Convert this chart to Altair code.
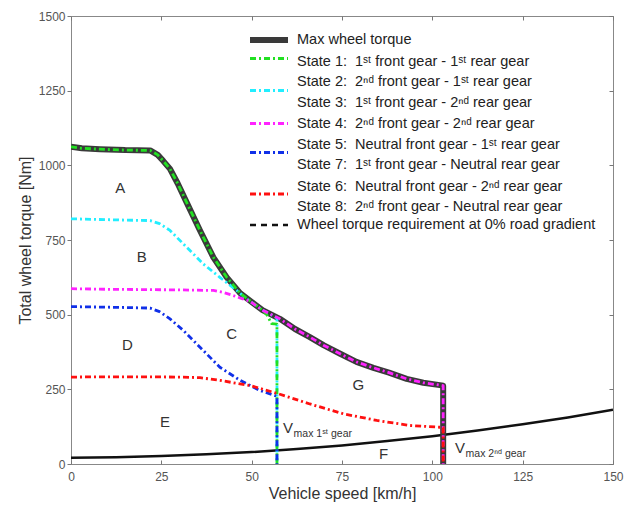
import altair as alt
import pandas as pd

FONT = "Liberation Sans, Arial, DejaVu Sans, sans-serif"

# ---------------- data ----------------
speed_max = [0, 3, 8, 15, 21.9, 24, 25.5, 27.4, 29.5, 32, 35.7, 39.4, 43.1, 46.8, 49.5, 53,
             57.8, 62, 66.1, 70, 74.5, 79, 83.7, 88, 92.9, 97.5, 102.1, 103, 103]
torque_max = [1062, 1057, 1054, 1051, 1050, 1035, 1015, 988, 940, 876, 782, 692, 625, 572, 547, 515,
              486, 452, 425, 397, 369, 342, 322, 306, 285, 272, 264, 262, 0]

speed_s1 = [0, 3, 8, 15, 21.9, 24, 25.5, 27.4, 29.5, 32, 35.7, 39.4, 43.1, 46.8, 49.5, 53, 54.2, 55.5, 57, 57]
torque_s1 = [1062, 1057, 1054, 1051, 1050, 1035, 1015, 988, 940, 876, 782, 692, 625, 572, 547, 515, 500, 470, 468, 0]

speed_s2 = [0, 10, 21.9, 24.5, 27.4, 32, 36.6, 41.2, 45.9, 48.6, 53, 57, 57]
torque_s2 = [821, 818, 815, 805, 782, 726, 670, 625, 581, 553, 515, 489, 0]

speed_s4 = [0, 10, 20, 30, 39.4, 42, 44.9, 47.5, 49.5, 53, 57.8, 62, 66.1, 70, 74.5, 79, 83.7,
            88, 92.9, 97.5, 102.1, 103, 103]
torque_s4 = [587, 585, 584, 583, 581, 575, 564, 553, 545, 515, 486, 452, 425, 397, 369, 342, 322,
             306, 285, 272, 264, 262, 0]

speed_s5 = [0, 5, 15, 21.9, 24.5, 27.4, 31.1, 35.7, 41.2, 46.8, 52.3, 56.5, 57, 57]
torque_s5 = [527, 526, 524, 522, 510, 486, 447, 391, 324, 280, 246, 229, 228, 0]

speed_s6 = [0, 10, 20, 30, 35.7, 41.2, 45, 49.5, 56.9, 66.1, 75.4, 84.6, 93.8, 102.1, 103, 103]
torque_s6 = [291, 292, 292, 291, 289, 280, 272, 263, 237, 201, 168, 146, 129, 123, 122, 0]

speed_req = [0, 12.5, 25, 37.5, 50, 62.5, 75, 87.5, 100, 112.5, 125, 137.5, 150]
torque_req = [21, 23, 27, 33, 40, 50, 62, 77, 93, 112, 133, 156, 182]

region_labels = ["A", "B", "C", "D", "E", "F", "G"]
region_speed = [13.6, 19.6, 44.5, 15.6, 26, 86.5, 79.5]
region_torque = [923, 692, 436, 397, 139, 34, 263]

vmax_main = ["V", "V"]
vmax_sub = ["max 1ˢᵗ gear", "max 2ⁿᵈ gear"]
vmax_speed = [58.7, 106.3]
vmax_torque = [105, 38.5]

x_ticks = [0, 25, 50, 75, 100, 125, 150]
y_ticks = [0, 250, 500, 750, 1000, 1250, 1500]

legend_labels = [
    "Max wheel torque",
    "State 1:\u00a0 1ˢᵗ front gear - 1ˢᵗ rear gear",
    "State 2:\u00a0 2ⁿᵈ front gear - 1ˢᵗ rear gear",
    "State 3:\u00a0 1ˢᵗ front gear - 2ⁿᵈ rear gear",
    "State 4:\u00a0 2ⁿᵈ front gear - 2ⁿᵈ rear gear",
    "State 5:\u00a0 Neutral front gear - 1ˢᵗ rear gear",
    "State 7:\u00a0 1ˢᵗ front gear - Neutral rear gear",
    "State 6:\u00a0 Neutral front gear - 2ⁿᵈ rear gear",
    "State 8:\u00a0 2ⁿᵈ front gear - Neutral rear gear",
    "Wheel torque requirement at 0% road gradient",
]

# ---------------- styling ----------------
W, H = 542, 448
XS = alt.Scale(domain=[0, 150], nice=False, zero=False)
YS = alt.Scale(domain=[0, 1500], nice=False, zero=False)
DASHDOT = [6, 3, 2, 3]

C_MAX = "#3a3a3a"
C_S1 = "#22e022"
C_S2 = "#22eeff"
C_S4 = "#ff22ff"
C_S5 = "#1030e8"
C_S6 = "#ff1010"
C_REQ = "#111111"


def frame(xs, ys):
    return pd.DataFrame({"speed": xs, "torque": ys, "i": list(range(len(xs)))})


def line(df, color, width, dash=None, xaxis=None, yaxis=None):
    kw = dict(color=color, strokeWidth=width, clip=True, strokeCap="butt", strokeJoin="round")
    if dash:
        kw["strokeDash"] = dash
    return alt.Chart(df).mark_line(**kw).encode(
        x=alt.X("speed:Q", scale=XS, axis=xaxis),
        y=alt.Y("torque:Q", scale=YS, axis=yaxis),
        order="i:Q",
    )


axis_bottom = alt.Axis(
    orient="bottom", values=x_ticks, title="Vehicle speed [km/h]", offset=-4, domain=False,
    tickSize=4, tickColor="#777", labelPadding=7, labelFontSize=12, labelColor="#555",
    titleFontSize=16, titleColor="#333", titleFontWeight="normal", titlePadding=3,
    grid=False, labelFlush=False, format="d",
)
axis_left = alt.Axis(
    orient="left", values=y_ticks, title="Total wheel torque [Nm]", domain=False,
    tickSize=4, tickColor="#777", labelPadding=2, labelFontSize=12, labelColor="#555",
    titleFontSize=16, titleColor="#333", titleFontWeight="normal", titlePadding=5,
    grid=False, labelFlush=False, format="d",
)
axis_top = alt.Axis(
    orient="top", values=x_ticks, title=None, labels=False, domain=False, offset=-4,
    tickSize=4, tickColor="#777", grid=False,
)
axis_right = alt.Axis(
    orient="right", values=y_ticks, title=None, labels=False, domain=False, offset=-4,
    tickSize=4, tickColor="#777", grid=False,
)

layers = [
    line(frame(speed_req, torque_req), C_REQ, 2.5, xaxis=axis_bottom, yaxis=axis_left),
    line(frame(speed_max, torque_max), C_MAX, 6, xaxis=axis_top, yaxis=axis_right),
    line(frame(speed_s2, torque_s2), C_S2, 2.8, DASHDOT),
    line(frame(speed_s1, torque_s1), C_S1, 2.8, DASHDOT),
    line(frame(speed_s4, torque_s4), C_S4, 2.8, DASHDOT),
    line(frame(speed_s5, torque_s5), C_S5, 2.8, DASHDOT),
    line(frame(speed_s6, torque_s6), C_S6, 2.8, DASHDOT),
]

regions = pd.DataFrame({"label": region_labels, "speed": region_speed, "torque": region_torque})
layers.append(
    alt.Chart(regions).mark_text(fontSize=15, color="#333", font=FONT).encode(
        x=alt.X("speed:Q", scale=XS, axis=None),
        y=alt.Y("torque:Q", scale=YS, axis=None),
        text="label:N",
    )
)

vmax = pd.DataFrame({"main": vmax_main, "sub": vmax_sub, "speed": vmax_speed, "torque": vmax_torque})
layers.append(
    alt.Chart(vmax).mark_text(fontSize=15, color="#333", font=FONT, align="left",
                              baseline="alphabetic").encode(
        x=alt.X("speed:Q", scale=XS, axis=None),
        y=alt.Y("torque:Q", scale=YS, axis=None),
        text="main:N",
    )
)
layers.append(
    alt.Chart(vmax).mark_text(fontSize=10.5, color="#333", font=FONT, align="left",
                              baseline="alphabetic", dx=10.5, dy=4.5).encode(
        x=alt.X("speed:Q", scale=XS, axis=None),
        y=alt.Y("torque:Q", scale=YS, axis=None),
        text="sub:N",
    )
)

# ---------------- legend (drawn in pixel space) ----------------
one = pd.DataFrame({"k": [0]})
sym_x0, sym_x1 = 179, 217
legend_symbols = [
    (24, C_MAX, 6, None),
    (42.5, C_S1, 2.8, DASHDOT),
    (74.5, C_S2, 2.8, DASHDOT),
    (107.5, C_S4, 2.8, DASHDOT),
    (136.5, C_S5, 2.8, DASHDOT),
    (178, C_S6, 2.8, DASHDOT),
    (209, C_REQ, 2.5, [6, 5]),
]
for yy, col, sw, dash in legend_symbols:
    kw = dict(color=col, strokeWidth=sw, strokeCap="butt")
    if dash:
        kw["strokeDash"] = dash
    layers.append(
        alt.Chart(one).mark_rule(**kw).encode(
            x=alt.value(sym_x0), x2=alt.value(sym_x1), y=alt.value(yy)
        )
    )

legend_text_y = [24, 45.5, 66.3, 87.3, 108.3, 128.5, 149, 170.5, 190.7, 209]
for lab, yy in zip(legend_labels, legend_text_y):
    layers.append(
        alt.Chart(one).mark_text(
            text=lab, fontSize=14.5, color="#222", font=FONT, align="left", baseline="middle"
        ).encode(x=alt.value(226), y=alt.value(yy))
    )

chart = (
    alt.layer(*layers)
    .resolve_axis(x="independent", y="independent")
    .properties(
        width=W, height=H,
        autosize=alt.AutoSizeParams(type="none"),
        padding={"left": 71, "top": 16, "right": 20, "bottom": 44},
        background="white",
    )
    .configure(font=FONT)
    .configure_view(stroke="#888", strokeWidth=1)
    .configure_axis(labelFont=FONT, titleFont=FONT)
)

chart.save("out.html", embed_options={"renderer": "svg", "actions": False})
